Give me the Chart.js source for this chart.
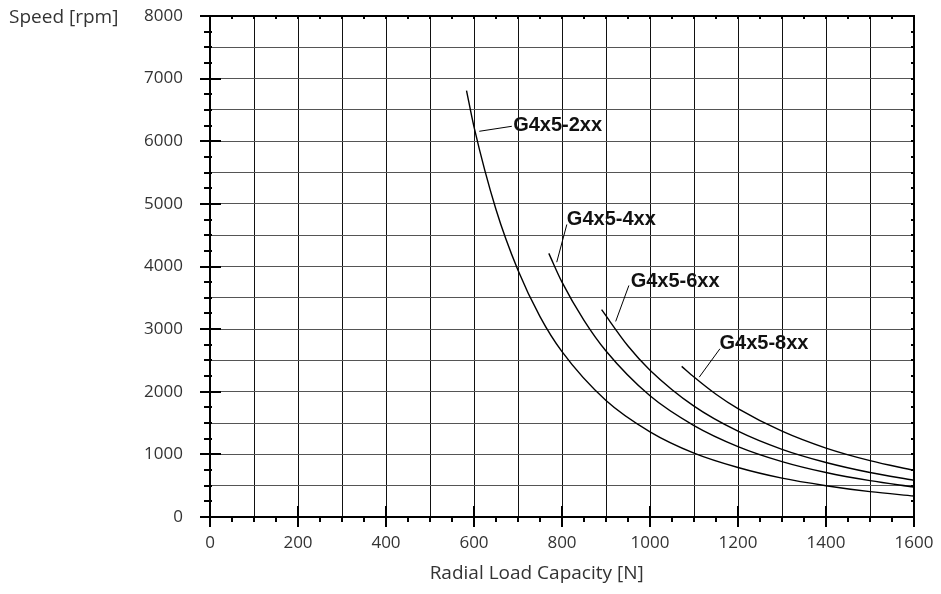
<!DOCTYPE html>
<html>
<head>
<meta charset="utf-8">
<script src="https://cdn.jsdelivr.net/npm/chart.js@4"></script>
<style>
  html, body { margin: 0; padding: 0; background: #fff; }
  #wrap { width: 941px; height: 594px; }
</style>
</head>
<body>
<div id="wrap"><canvas id="chart"></canvas></div>
<script>
// curve data (load in N, speed in rpm)
const load2 = [583, 600, 650, 700, 750, 800, 900, 1000, 1100, 1200, 1300, 1400, 1500, 1600];
const speed2 = [6810, 6230, 4910, 3940, 3200, 2640, 1860, 1360, 1020, 790, 620, 500, 405, 335];
const load4 = [770, 800, 850, 900, 1000, 1100, 1200, 1300, 1400, 1500, 1600];
const speed4 = [4210, 3750, 3140, 2650, 1935, 1460, 1125, 885, 710, 580, 479];
const load6 = [890, 950, 1000, 1100, 1200, 1300, 1400, 1500, 1600];
const speed6 = [3310, 2730, 2345, 1770, 1370, 1080, 870, 710, 586];
const load8 = [1072, 1100, 1150, 1200, 1300, 1400, 1500, 1600];
const speed8 = [2405, 2235, 1960, 1730, 1370, 1100, 900, 745];

const curveNames = ["G4x5-2xx", "G4x5-4xx", "G4x5-6xx", "G4x5-8xx"];

// label anchors and leader lines, in data units
const labelAt = [[689, 6258], [811, 4750], [956, 3761], [1158, 2772]];
const leaderFrom = [[612, 6159], [788, 4069], [922, 3123], [1112, 2234]];
const leaderTo = [[686, 6239], [811, 4671], [952, 3697], [1159, 2687]];

const xTitle = "Radial Load Capacity [N]";
const yTitle = "Speed [rpm]";

const tickFont = { family: "'Open Sans', sans-serif", size: 17 };
const textColor = "#333";

function toPoints(xs, ys) {
  return xs.map((x, i) => ({ x: x, y: ys[i] }));
}

const curves = [[load2, speed2], [load4, speed4], [load6, speed6], [load8, speed8]];

const datasets = curves.map(([xs, ys], i) => ({
  label: curveNames[i],
  data: toPoints(xs, ys),
  borderColor: "#000",
  borderWidth: 1.4,
  pointRadius: 0,
  cubicInterpolationMode: "monotone",
  fill: false,
}));

leaderFrom.forEach((p, i) => {
  datasets.push({
    label: "leader " + i,
    data: [{ x: p[0], y: p[1] }, { x: leaderTo[i][0], y: leaderTo[i][1] }],
    borderColor: "#000",
    borderWidth: 1,
    pointRadius: 0,
    fill: false,
  });
});

// frame, extra tick marks, curve names and the axis titles
const overlay = {
  id: "overlay",
  afterDraw(chart) {
    const ctx = chart.ctx;
    const xs = chart.scales.x;
    const ys = chart.scales.y;
    const a = chart.chartArea;

    ctx.save();
    ctx.strokeStyle = "#000";
    ctx.lineWidth = 2;

    const line = (x1, y1, x2, y2) => {
      ctx.beginPath();
      ctx.moveTo(x1, y1);
      ctx.lineTo(x2, y2);
      ctx.stroke();
    };

    // top and right border
    line(a.left - 10, a.top, a.right + 1, a.top);
    line(a.right, a.top, a.right, a.bottom + 10);

    // left ticks
    for (let v = 0; v <= 8000; v += 250) {
      const py = Math.round(ys.getPixelForValue(v));
      if (v % 1000 === 0) line(a.left - 10, py, a.left + 11, py);
      else line(a.left - 6, py, a.left + 2, py);
    }
    // right ticks
    for (let v = 250; v < 8000; v += 250) {
      const py = Math.round(ys.getPixelForValue(v));
      line(a.right - 3, py, a.right, py);
    }
    // bottom ticks
    for (let v = 0; v <= 1600; v += 50) {
      const px = Math.round(xs.getPixelForValue(v));
      if (v % 200 === 0) line(px, a.bottom - 11, px, a.bottom + 10);
      else line(px, a.bottom, px, a.bottom + 5);
    }
    // top ticks
    for (let v = 50; v < 1600; v += 50) {
      const px = Math.round(xs.getPixelForValue(v));
      line(px, a.top, px, a.top + 3);
    }

    // curve names
    ctx.fillStyle = "#111";
    ctx.font = "bold 20px 'Liberation Sans', Arial, sans-serif";
    ctx.textAlign = "left";
    ctx.textBaseline = "middle";
    labelAt.forEach((p, i) => {
      ctx.fillText(curveNames[i], xs.getPixelForValue(p[0]), ys.getPixelForValue(p[1]));
    });

    // axis titles
    ctx.fillStyle = textColor;
    ctx.font = "19px 'Open Sans', sans-serif";
    ctx.fillText(yTitle, 9, ys.getPixelForValue(8000) + 2);
    ctx.textAlign = "center";
    ctx.fillText(xTitle, a.left + (a.right - a.left) * 0.464, a.bottom + 57);
    ctx.restore();
  },
};

new Chart(document.getElementById("chart"), {
  type: "line",
  data: { datasets: datasets },
  options: {
    responsive: true,
    maintainAspectRatio: false,
    animation: false,
    devicePixelRatio: 1,
    layout: { padding: { top: 16, right: 27, left: 0, bottom: 0 } },
    plugins: {
      legend: { display: false },
      tooltip: { enabled: false },
    },
    scales: {
      x: {
        type: "linear",
        min: 0,
        max: 1600,
        afterFit: (scale) => {
          scale.height = 77;
          scale.paddingLeft = 0;
          scale.paddingRight = 0;
        },
        border: { display: true, color: "#000", width: 2 },
        grid: { color: "#111", lineWidth: 1, drawTicks: false },
        ticks: {
          stepSize: 100,
          autoSkip: false,
          maxRotation: 0,
          padding: 16,
          color: textColor,
          font: tickFont,
          callback: (v) => (v % 200 === 0 ? String(v) : ""),
        },
      },
      y: {
        min: 0,
        max: 8000,
        afterFit: (scale) => {
          scale.width = 210;
          scale.paddingTop = 0;
          scale.paddingBottom = 0;
        },
        border: { display: true, color: "#000", width: 2 },
        grid: { color: "#555", lineWidth: 1, drawTicks: false },
        ticks: {
          stepSize: 500,
          autoSkip: false,
          padding: 27,
          color: textColor,
          font: tickFont,
          callback: (v) => (v % 1000 === 0 ? String(v) : ""),
        },
      },
    },
  },
  plugins: [overlay],
});
</script>
</body>
</html>
